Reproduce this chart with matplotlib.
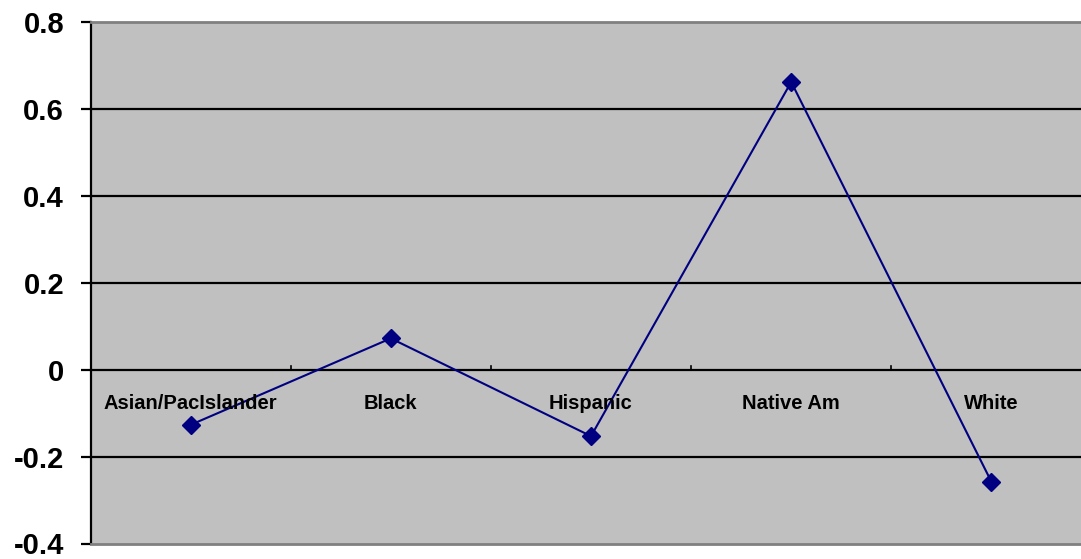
import matplotlib
matplotlib.use("Agg")
import matplotlib.pyplot as plt
import numpy as np

categories = ["Asian/PacIslander", "Black", "Hispanic", "Native Am", "White"]
values = [-0.127, 0.072, -0.153, 0.662, -0.258]
yticks = [-0.4, -0.2, 0, 0.2, 0.4, 0.6, 0.8]
ytick_labels = ["-0.4", "-0.2", "0", "0.2", "0.4", "0.6", "0.8"]

plt.rcParams['font.family'] = ['Liberation Sans', 'DejaVu Sans']

W, H = 1081, 559
fig = plt.figure(figsize=(W / 100, H / 100), dpi=100)
left, right, top, bottom = 90.5, 1091.5, 22, 543.5
ax = fig.add_axes([left / W, (H - bottom) / H, (right - left) / W, (bottom - top) / H])
ax.set_facecolor("#C0C0C0")

x = np.arange(len(categories))
ax.set_xlim(-0.5, len(categories) - 0.5)
ax.set_ylim(-0.4, 0.8)

for yv in yticks[1:-1]:
    ax.axhline(yv, color="black", lw=1.6, zorder=1)

ax.plot(x, values, color="#000080", lw=1.5, marker="D", markersize=9.5,
        markerfacecolor="#000080", markeredgecolor="#000080", zorder=3)

# category boundary ticks on zero line
for b in np.arange(0.5, len(categories) - 0.5, 1.0):
    ax.plot([b, b], [0, 0.009], color="black", lw=1.2, zorder=2)

for xi, c in zip(x, categories):
    ax.annotate(c, (xi, 0), xytext=(0, -34), textcoords="offset pixels",
                ha="center", va="center", fontsize=14.5, fontweight="bold",
                color="black", zorder=4)

ax.set_xticks([])
ax.set_yticks(yticks)
ax.set_yticklabels(ytick_labels, fontsize=21, fontweight="bold")
ax.tick_params(axis="y", length=7, width=1.6, direction="out", pad=12, colors="black")

for s in ["top", "bottom", "right"]:
    ax.spines[s].set_color("#808080")
    ax.spines[s].set_linewidth(2)
ax.spines["left"].set_color("black")
ax.spines["left"].set_linewidth(1.6)

fig.savefig("out.png", dpi=100)
